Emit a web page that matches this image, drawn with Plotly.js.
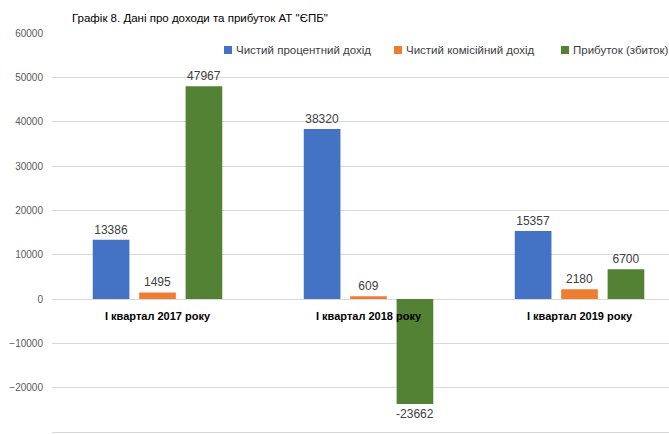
<!DOCTYPE html>
<html><head><meta charset="utf-8">
<script src="https://cdn.plot.ly/plotly-3.0.1.min.js"></script>
<style>html,body{margin:0;padding:0;background:#fff}</style>
</head><body><div id="c" style="width:669px;height:434px"></div>
<script>
var categories = ["I квартал 2017 року", "I квартал 2018 року", "I квартал 2019 року"];
var seriesNames = ["Чистий процентний дохід", "Чистий комісійний дохід", "Прибуток (збиток)"];
var interestIncome = [13386, 38320, 15357];
var commissionIncome = [1495, 609, 2180];
var profit = [47967, -23662, 6700];
var colors = ["#4472C4", "#ED7D31", "#548235"];
var values = [interestIncome, commissionIncome, profit];

var L = 52, T = 33, W = 617, H = 401;
function px2x(px){ return (px - L) / W; }
function py2y(py){ return (T + H - py) / H; }

var traces = values.map(function(v, i){
  return {type:'bar', name: seriesNames[i], x: categories, y: v,
    marker:{color: colors[i]},
    text: v.map(String), textposition:'outside', cliponaxis:false, constraintext:'none',
    textfont:{family:'Liberation Sans, Arial', size:12, color:'#404040'}};
});
var annotations = categories.map(function(c){
  return {x:c, y:0, xref:'x', yref:'y', text:'<b>'+c+'</b>', showarrow:false,
    yanchor:'top', yshift:-9, font:{family:'Liberation Sans, Arial', size:11, color:'#000'}};
});
// manual legend
var legendPx = [224, 394, 561];
var shapes = [];
seriesNames.forEach(function(n, i){
  var x0 = legendPx[i];
  shapes.push({type:'rect', xref:'paper', yref:'paper', x0:px2x(x0), x1:px2x(x0+8), y0:py2y(54), y1:py2y(46),
    fillcolor:colors[i], line:{width:0}});
  annotations.push({xref:'paper', yref:'paper', x:px2x(x0+10), y:py2y(50), xanchor:'left', yanchor:'middle',
    text:n, showarrow:false, font:{family:'Liberation Sans, Arial', size:11.5, color:'#404040'}});
});

var layout = {
  width:669, height:434,
  margin:{l:L, r:0, t:T, b:0},
  paper_bgcolor:'#fff', plot_bgcolor:'#fff',
  title:{text:'Графік 8. Дані про доходи та прибуток АТ "ЄПБ"', x:72/669, xanchor:'left', xref:'container', y:1-18/434, yanchor:'middle', yref:'container',
    font:{family:'Liberation Sans, Arial', size:11.5, color:'#000'}},
  barmode:'group', bargap:0.34, bargroupgap:0.21,
  xaxis:{type:'category', autorange:false, range:[-0.5, 2.424], showticklabels:false, showgrid:false, zeroline:false, showline:false, ticks:''},
  yaxis:{autorange:false, range:[-30450, 60000], tickvals:[-30000,-20000,-10000,0,10000,20000,30000,40000,50000,60000], tickformat:'d', showgrid:true, gridcolor:'#d9d9d9', gridwidth:1,
    zeroline:true, zerolinecolor:'#d9d9d9', zerolinewidth:1, ticks:'', ticklen:0, ticklabelstandoff:8,
    tickfont:{family:'Liberation Sans, Arial', size:10, color:'#595959'}},
  showlegend:false,
  annotations: annotations,
  shapes: shapes
};
Plotly.newPlot('c', traces, layout, {staticPlot:true, displayModeBar:false});
</script></body></html>
